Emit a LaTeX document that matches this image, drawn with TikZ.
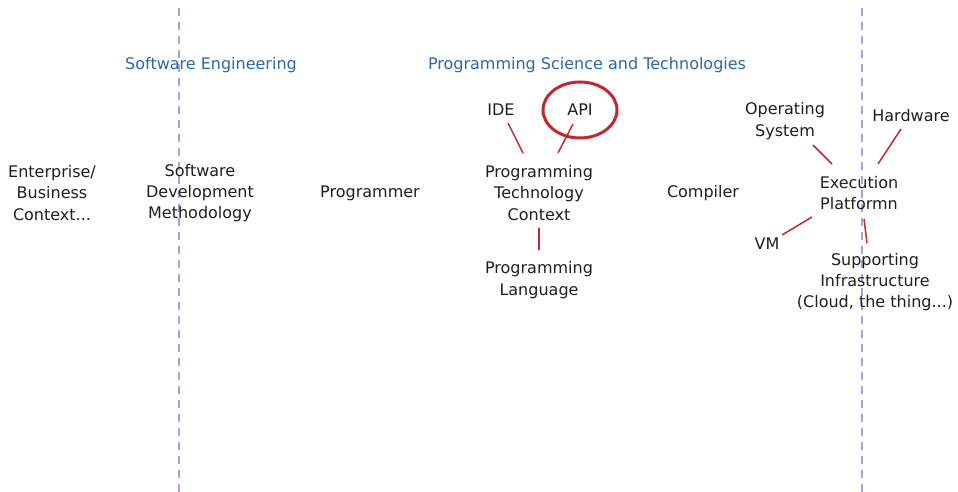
\documentclass[tikz,border=0pt]{standalone}
\usepackage{fontspec}
\setmainfont{DejaVu Sans}
\usetikzlibrary{shapes.geometric}
\definecolor{inkblack}{HTML}{1E1E1E}
\definecolor{headblue}{HTML}{2B68A6}
\definecolor{linkred}{HTML}{C4262E}
\definecolor{divider}{HTML}{B49BDC}
\begin{document}
\begin{tikzpicture}[x=1pt,y=-1pt,
  term/.style={text=inkblack,align=center,font=\fontsize{16}{21.3}\selectfont,inner sep=0pt},
  heading/.style={text=headblue,font=\fontsize{16}{21}\selectfont,inner sep=0pt},
  link/.style={draw=linkred,line width=1.5pt},
  divline/.style={draw=divider,line width=1.6pt,dash pattern=on 8pt off 6pt}]
\useasboundingbox (0,0) rectangle (958,492);
% column dividers
\coordinate (d1a) at (179,8);  \coordinate (d1b) at (179,492);
\coordinate (d2a) at (862,8);  \coordinate (d2b) at (862,492);
\draw[divline] (d1a) -- (d1b);
\draw[divline] (d2a) -- (d2b);
% headings
\node[heading] (se) at (211,65) {Software Engineering};
\node[heading] (pst) at (587,65) {Programming Science and Technologies};
% terms
\node[term] (ent) at (52,193) {Enterprise/\\Business\\Context...};
\node[term] (sdm) at (200,193) {Software\\Development\\Methodology};
\node[term] (prg) at (370,193) {Programmer};
\node[term] (ide) at (501,110) {IDE};
\node[term] (api) at (580,110) {API};
\node[term] (ptc) at (539,193) {Programming\\Technology\\Context};
\node[term] (pl) at (539,280) {Programming\\Language};
\node[term] (cmp) at (703,193) {Compiler};
\node[term] (os) at (785,121) {Operating\\System};
\node[term] (hw) at (911,116) {Hardware};
\node[term] (ep) at (859,193) {Execution\\Platformn};
\node[term] (vm) at (767,244) {VM};
\node[term] (si) at (875,282) {Supporting\\Infrastructure\\(Cloud, the thing...)};
% highlight ring
\node[draw=linkred,line width=3pt,ellipse,minimum width=74pt,minimum height=56pt,inner sep=0pt] (ring) at (api) {};
% connectors
\draw[link] ([shift={(7,13)}]ide.center) -- ([shift={(-16,-40)}]ptc.center);
\draw[link] ([shift={(-7,14)}]api.center) -- ([shift={(19,-40)}]ptc.center);
\draw[link] ([shift={(0,35)}]ptc.center) -- ([shift={(0,-30)}]pl.center);
\draw[link] ([shift={(28,24)}]os.center) -- ([shift={(-27,-29)}]ep.center);
\draw[link] ([shift={(-10,13)}]hw.center) -- ([shift={(19,-29)}]ep.center);
\draw[link] ([shift={(15,-9)}]vm.center) -- ([shift={(-47,24)}]ep.center);
\draw[link] ([shift={(5,26)}]ep.center) -- ([shift={(-8,-39)}]si.center);
\end{tikzpicture}
\end{document}
